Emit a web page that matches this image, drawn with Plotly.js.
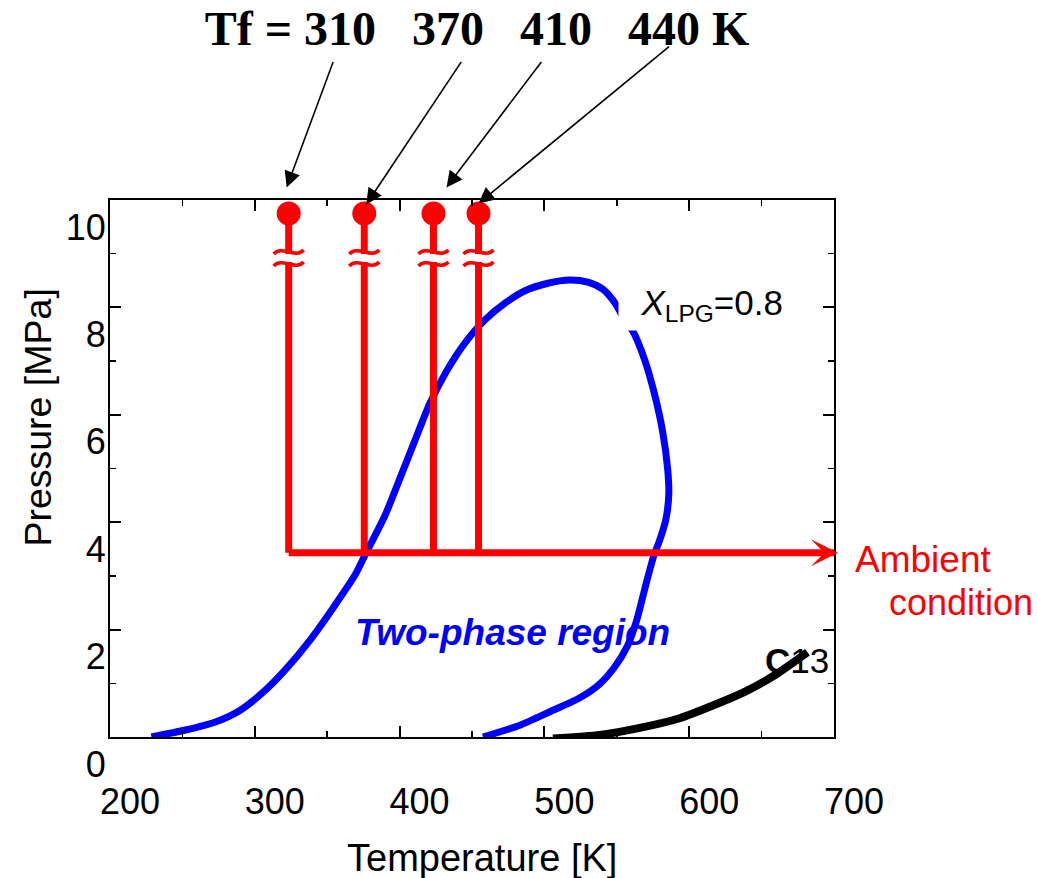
<!DOCTYPE html>
<html>
<head>
<meta charset="utf-8">
<script src="https://cdn.plot.ly/plotly-3.0.1.min.js"></script>
<style>html,body{margin:0;padding:0;background:#fff;}#chart{width:1037px;height:878px;}</style>
</head>
<body>
<div id="chart"></div>
<script>
// ---- data ----
const tfLabels = [310, 370, 410, 440];            // K, as written in the title
const tfPlotT = [323.4, 375.6, 423.4, 454.5];     // K, where the feed lines are drawn
const feedP = 9.75;                               // MPa, feed pressure (dots)
const breakP = 8.92;                              // MPa, axis-break marks
const ambientP = 3.43;                            // MPa, ambient line
const ambientT = [323.4, 702];                    // K, ambient line start / arrow tip

const envT = [228.6,252.1,272.8,290.0,305.2,321.0,338.3,355.5,369.3,376.9,390.0,400.3,410.7,421.0,432.8,445.2,459.0,472.8,486.6,502.4,517.6,530.0,540.3,547.2,552.1,555.5,561.0,569.3,576.2,581.7,585.2,585.9,583.8,579.7,575.5,570.0,563.8,557.6,547.9,538.3,524.5,503.8,483.1,457.6];
const envP = [0.00,0.13,0.28,0.50,0.82,1.25,1.81,2.46,3.02,3.43,4.13,4.82,5.53,6.22,6.83,7.34,7.77,8.08,8.31,8.45,8.51,8.47,8.34,8.14,7.93,7.75,7.56,7.02,6.37,5.68,4.97,4.51,4.04,3.67,3.37,2.83,2.18,1.71,1.28,0.99,0.73,0.47,0.22,0.00];

const c13T = [505.9,538.3,565.9,593.4,617.6,638.3,659.0,681.7];
const c13P = [-0.03,0.04,0.17,0.35,0.60,0.84,1.15,1.58];

const xTickVals = [200, 300, 400, 500, 600, 700];
const yTickVals = [0, 2, 4, 6, 8, 10];
const xRange = [200, 700];
const yRange = [0, 10];

// ---- build ----
const RED = '#ff0000';
const BLUE = '#0000ff';
const SANS = 'Liberation Sans, Arial, sans-serif';
const xPaper = t => (t - xRange[0]) / (xRange[1] - xRange[0]);
const yPaper = p => (p - yRange[0]) / (yRange[1] - yRange[0]);

const vx = [], vy = [];
tfPlotT.forEach(t => { vx.push(t, t, null); vy.push(feedP, ambientP, null); });

const traces = [
  {x: envT, y: envP, mode: 'lines', line: {color: BLUE, width: 7, shape: 'spline', smoothing: 0.7}, hoverinfo: 'skip'},
  {x: c13T, y: c13P, mode: 'lines', line: {color: '#000', width: 8, shape: 'spline', smoothing: 0.6}, hoverinfo: 'skip'},
  {x: vx, y: vy, mode: 'lines', line: {color: RED, width: 7}, hoverinfo: 'skip', cliponaxis: false},
  {x: ambientT, y: [ambientP, ambientP], mode: 'lines', line: {color: RED, width: 7}, hoverinfo: 'skip', cliponaxis: false},
  {x: tfPlotT, y: tfPlotT.map(() => feedP), mode: 'markers', marker: {color: RED, size: 24}, hoverinfo: 'skip', cliponaxis: false}
];

// axis-break marks on each feed line
const shapes = [];
tfPlotT.forEach(t => {
  shapes.push({type: 'rect', layer: 'above', xref: 'x', yref: 'y', xsizemode: 'pixel', ysizemode: 'pixel',
    xanchor: t, yanchor: breakP, x0: -6, x1: 6, y0: -4, y1: 4, fillcolor: '#fff', line: {width: 0}});
  [6, -6].forEach(dy => {
    shapes.push({type: 'path', layer: 'above', xref: 'x', yref: 'y', xsizemode: 'pixel', ysizemode: 'pixel',
      xanchor: t, yanchor: breakP,
      path: `M -15,${dy - 2} C -7,${dy + 7} 7,${dy - 7} 15,${dy + 2}`,
      line: {color: RED, width: 3.5}});
  });
});

// arrows from the title to each feed dot (tip offset / tail offset in px)
const tipOff = [[-2, 26], [2, 9], [13, 26], [0, 10]];
const tailOff = [[47, -127], [96, -144], [96, -127], [192, -158]];
const annotations = tfPlotT.map((t, i) => ({
  x: t, y: feedP, xref: 'x', yref: 'y', text: '', showarrow: true,
  xshift: tipOff[i][0], yshift: tipOff[i][1],
  ax: tailOff[i][0], ay: tailOff[i][1], axref: 'pixel', ayref: 'pixel',
  arrowhead: 2, arrowsize: 2, arrowwidth: 1.6, arrowcolor: '#000', standoff: 0
}));

annotations.push(
  {x: xPaper(ambientT[1]), y: yPaper(ambientP), xref: 'paper', yref: 'paper', text: '', showarrow: true, xshift: 1,
   ax: -30, ay: 0, arrowhead: 3, arrowsize: 0.9, arrowwidth: 5, arrowcolor: RED, standoff: 0},
  {x: 550.7, y: 8.04, xref: 'x', yref: 'y', xanchor: 'left', yanchor: 'middle',
   text: '\u00a0\u00a0<i>X</i><sub>LPG</sub>=0.8', showarrow: false, bgcolor: '#fff', borderpad: 3,
   font: {family: SANS, size: 35, color: '#000'}},
  {x: 478.3, y: 1.94, xref: 'x', yref: 'y', text: '<b><i>Two-phase region</i></b>', showarrow: false,
   font: {family: SANS, size: 37, color: BLUE}},
  {x: 1.026, y: 0.33, xref: 'paper', yref: 'paper', xanchor: 'left', yanchor: 'middle', text: 'Ambient', showarrow: false,
   font: {family: SANS, size: 37, color: RED}},
  {x: 1.073, y: 0.25, xref: 'paper', yref: 'paper', xanchor: 'left', yanchor: 'middle', text: 'condition', showarrow: false,
   font: {family: SANS, size: 36, color: RED}},
  {x: 674.1, y: 1.43, xref: 'x', yref: 'y', text: '<b>C</b>13', showarrow: false,
   font: {family: SANS, size: 35, color: '#000'}},
  {x: -0.1, y: 0.594, xref: 'paper', yref: 'paper', xanchor: 'center', yanchor: 'middle', textangle: -90,
   text: 'Pressure [MPa]', showarrow: false, font: {family: SANS, size: 37.5, color: '#000'}},
  {x: 0.514, y: -0.2253, xref: 'paper', yref: 'paper', xanchor: 'center', yanchor: 'middle',
   text: 'Temperature [K]', showarrow: false, font: {family: SANS, size: 38, color: '#000'}}
);

const titleText = 'Tf = ' + tfLabels.join('\u00a0\u00a0\u00a0') + ' K';

const axisCommon = {
  showline: true, linewidth: 2, linecolor: '#000', mirror: 'ticks',
  ticks: 'inside', ticklen: 11, tickwidth: 2, tickcolor: '#000',
  showgrid: false, zeroline: false, fixedrange: true,
  tickfont: {family: SANS, size: 36, color: '#000'}
};

const layout = {
  width: 1037, height: 878,
  margin: {l: 110, r: 203, t: 200, b: 141},
  paper_bgcolor: '#fff', plot_bgcolor: '#fff',
  showlegend: false,
  title: {text: '<b>' + titleText + '</b>', x: 477 / 1037, xanchor: 'center', y: 1 - 28 / 878, yanchor: 'middle',
          font: {family: 'Liberation Serif, Times New Roman, serif', size: 48, color: '#000'}},
  xaxis: Object.assign({}, axisCommon, {
    range: xRange, tickmode: 'array', tickvals: xTickVals, ticktext: xTickVals.map(String),
    minor: {dtick: 50, tick0: 200, ticks: 'inside', ticklen: 6, tickwidth: 1.5, tickcolor: '#000', showgrid: false},
    ticklabelshift: 20, ticklabelstandoff: 32
  }),
  yaxis: Object.assign({}, axisCommon, {
    range: yRange, tickmode: 'array', tickvals: yTickVals, ticktext: yTickVals.map(String),
    minor: {dtick: 1, tick0: 0, ticks: 'inside', ticklen: 6, tickwidth: 1.5, tickcolor: '#000', showgrid: false},
    ticklabelshift: 27, ticklabelstandoff: -5
  }),
  shapes: shapes,
  annotations: annotations
};

Plotly.newPlot('chart', traces, layout, {displayModeBar: false, staticPlot: true});
</script>
</body>
</html>
